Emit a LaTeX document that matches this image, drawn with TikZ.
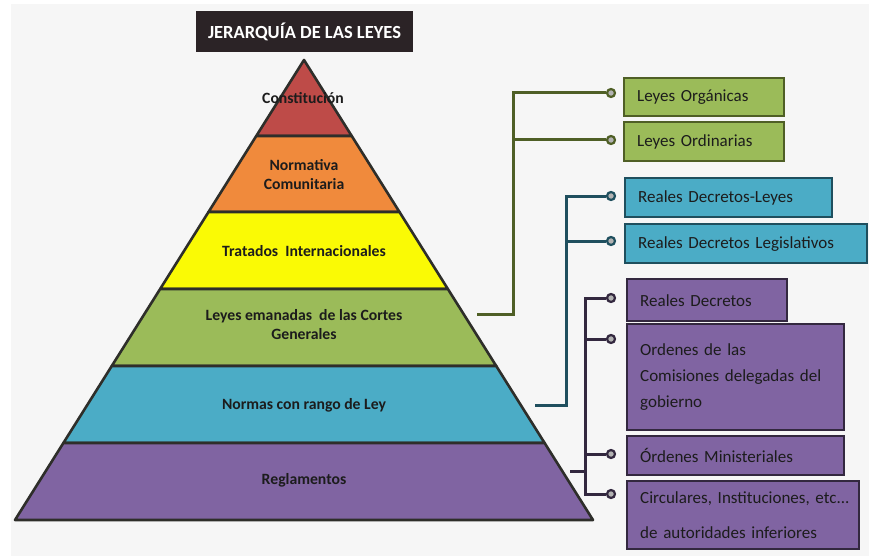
\documentclass[tikz,border=0pt]{standalone}
\usepackage{fontspec}
\setmainfont{Carlito}
\usetikzlibrary{calc}
\definecolor{bgc}{HTML}{F6F6F6}
\definecolor{cRed}{HTML}{BE4B48}
\definecolor{cOrange}{HTML}{F08A3C}
\definecolor{cYellow}{HTML}{FAFA05}
\definecolor{cGreen}{HTML}{9BBB59}
\definecolor{cTeal}{HTML}{4BACC6}
\definecolor{cPurple}{HTML}{8064A2}
\definecolor{dGreen}{HTML}{4F5F26}
\definecolor{dTeal}{HTML}{1F4F5E}
\definecolor{dPurple}{HTML}{33283F}
\definecolor{outl}{HTML}{2E2E2A}
\definecolor{titlebg}{HTML}{2B2326}
\definecolor{txt}{HTML}{1C1C1C}
\tikzset{
  layer/.style={draw=outl, line width=2.6pt, line join=round},
  ptext/.style={font=\bfseries\fontsize{15.7}{19}\selectfont, text=txt, align=center},
  box/.style={anchor=north west, line width=2.4pt, align=left, text=txt,
    inner xsep=13pt, inner ysep=0pt, font=\fontsize{17}{26}\selectfont},
  gbox/.style={box, fill=cGreen, draw=dGreen},
  tbox/.style={box, fill=cTeal, draw=dTeal},
  vbox/.style={box, fill=cPurple, draw=dPurple},
  dot/.style={circle, draw=#1, fill=gray!60, line width=2.2pt, inner sep=0pt, minimum size=8pt},
  conn/.style={draw=#1, line width=3pt},
}
\begin{document}
\begin{tikzpicture}[x=1pt,y=-1pt]
\fill[white] (0,0) rectangle (869,556);
\fill[bgc] (11,4) rectangle (869,556);
\useasboundingbox (0,0) rectangle (869,556);

% title
\node[fill=titlebg, text=white, font=\bfseries\fontsize{18.5}{20}\selectfont,
  minimum width=217pt, minimum height=41pt, inner sep=0pt] (title) at (304.5,31.5) {JERARQUÍA DE LAS LEYES};

% pyramid
\coordinate (A) at (304,60);
\coordinate (BL) at (15,520);
\coordinate (BR) at (593,520);
\foreach \i/\f in {1/0.1652,2/0.3304,3/0.4978,4/0.6652,5/0.8326}{
  \coordinate (L\i) at ($(A)!\f!(BL)$);
  \coordinate (R\i) at ($(A)!\f!(BR)$);
}
\filldraw[layer, fill=cRed] (A) -- (R1) -- (L1) -- cycle;
\filldraw[layer, fill=cOrange] (L1) -- (R1) -- (R2) -- (L2) -- cycle;
\filldraw[layer, fill=cYellow] (L2) -- (R2) -- (R3) -- (L3) -- cycle;
\filldraw[layer, fill=cGreen] (L3) -- (R3) -- (R4) -- (L4) -- cycle;
\filldraw[layer, fill=cTeal] (L4) -- (R4) -- (R5) -- (L5) -- cycle;
\filldraw[layer, fill=cPurple] (L5) -- (R5) -- (BR) -- (BL) -- cycle;

\node[ptext] (p1) at (303,98) {Constitución};
\node[ptext] (p2) at (304,175) {Normativa\\Comunitaria};
\node[ptext] (p3) at (304,251) {Tratados~~Internacionales};
\node[ptext] (p4) at (304,325) {Leyes emanadas~ de las Cortes\\Generales};
\node[ptext] (p5) at (304,405) {Normas con rango de Ley};
\node[ptext] (p6) at (304,480) {Reglamentos};

% boxes
\node[gbox, minimum width=160pt, minimum height=38pt, text width=134pt] (b1) at (623,77) {Leyes Orgánicas};
\node[gbox, minimum width=160pt, minimum height=39pt, text width=134pt] (b2) at (623,121) {Leyes Ordinarias};
\node[tbox, minimum width=207pt, minimum height=39pt, text width=181pt] (b3) at (624,177) {Reales Decretos-Leyes};
\node[tbox, minimum width=242pt, minimum height=39pt, text width=216pt] (b4) at (624,223) {Reales Decretos Legislativos};
\node[vbox, minimum width=160pt, minimum height=42pt, text width=134pt] (b5) at (626,278) {Reales Decretos};
\node[vbox, minimum width=217pt, minimum height=106pt, text width=191pt] (b6) at (626,323) {Ordenes de las\\Comisiones delegadas del\\gobierno};
\node[vbox, minimum width=217pt, minimum height=39pt, text width=191pt] (b7) at (626,435) {Órdenes Ministeriales};
\node[vbox, minimum width=232pt, minimum height=68pt, text width=206pt, font=\fontsize{17}{35}\selectfont] (b8) at (626,480) {\mbox{Circulares, Instituciones, etc...}\\de autoridades inferiores};

% dots
\node[dot=dGreen] (d1) at (611,93) {};
\node[dot=dGreen] (d2) at (611,140) {};
\node[dot=dTeal] (d3) at (611,196) {};
\node[dot=dTeal] (d4) at (611,241) {};
\node[dot=dPurple] (d5) at (611,298) {};
\node[dot=dPurple] (d6) at (611,339) {};
\node[dot=dPurple] (d7) at (611,454) {};
\node[dot=dPurple] (d8) at (611,494) {};

% connectors
\coordinate (gS) at (477,314);
\coordinate (tS) at (535,405);
\coordinate (vS) at (570,471);
\draw[conn=dGreen] (gS) -| (513,93) -- (d1.west);
\draw[conn=dGreen] (513,140) -- (d2.west);
\draw[conn=dTeal] (tS) -| (566,196) -- (d3.west);
\draw[conn=dTeal] (566,241) -- (d4.west);
\draw[conn=dPurple] (d5.west) -- (585,298) -- (585,494) -- (d8.west);
\draw[conn=dPurple] (585,339) -- (d6.west);
\draw[conn=dPurple] (585,454) -- (d7.west);
\draw[conn=dPurple] (vS) -- (585,471);
\end{tikzpicture}
\end{document}
